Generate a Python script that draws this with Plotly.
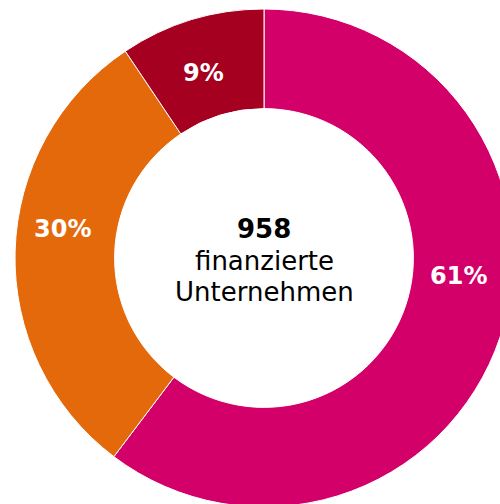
import math
import plotly.graph_objects as go

labels = ["Segment A", "Segment B", "Segment C"]
values = [60.3, 30.3, 9.4]
percent_labels = ["61%", "30%", "9%"]
colors = ["#D30069", "#E4690A", "#A5001F"]
center_total = "958"
caption_lines = ["finanzierte", "Unternehmen"]

# label placement (degrees clockwise from 12 o'clock, distance in px from centre)
label_angles = [95.4, 278.3, 341.8]
label_radii = [195, 204, 195]

W, H = 530, 520
CX, CY, R = 264, 258, 249

fig = go.Figure(go.Pie(
    labels=labels,
    values=values,
    hole=0.6,
    sort=False,
    direction="clockwise",
    rotation=0,
    marker=dict(colors=colors, line=dict(color="white", width=1)),
    textinfo="none",
    domain=dict(x=[(CX - R) / W, (CX + R) / W], y=[1 - (CY + R) / H, 1 - (CY - R) / H]),
    showlegend=False,
    hoverinfo="skip",
))

for txt, ang, rad in zip(percent_labels, label_angles, label_radii):
    px = CX + rad * math.sin(math.radians(ang))
    py = CY - rad * math.cos(math.radians(ang))
    fig.add_annotation(
        x=px / W, y=1 - py / H, xref="paper", yref="paper",
        text=f"<b>{txt}</b>", showarrow=False,
        font=dict(family="DejaVu Sans", size=24, color="white"),
        xanchor="center", yanchor="middle",
    )

center_rows = [(f"<b>{center_total}</b>", 229), (caption_lines[0], 261), (caption_lines[1], 292)]
for txt, py in center_rows:
    fig.add_annotation(
        x=CX / W, y=1 - py / H, xref="paper", yref="paper",
        text=txt, showarrow=False,
        font=dict(family="DejaVu Sans", size=26, color="black"),
        xanchor="center", yanchor="middle",
    )

fig.update_layout(
    width=W, height=H,
    margin=dict(l=0, r=0, t=0, b=0),
    paper_bgcolor="white",
    plot_bgcolor="white",
)

fig.write_html(
    "out.html",
    config={"displayModeBar": False},
    post_script="document.body.style.margin='0';document.body.style.overflow='hidden';",
)
